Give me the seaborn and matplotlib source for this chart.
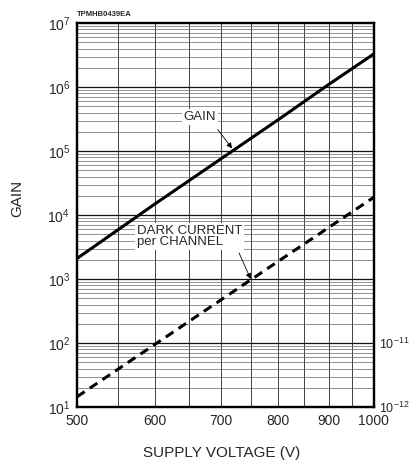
import matplotlib
matplotlib.use('Agg')
import matplotlib.pyplot as plt
import matplotlib.ticker as mticker
import seaborn as sns
import numpy as np
import pandas as pd

# datos
voltage = [500, 600, 700, 800, 900, 1000]
gain = [2.1e3, 1.5e4, 7.6e4, 3.1e5, 1.1e6, 3.3e6]
dark_current = [1.45e-12, 9.6e-12, 4.75e-11, 1.9e-10, 6.4e-10, 1.9e-9]  # A

x_ticks = [500, 600, 700, 800, 900, 1000]
y_ticks = [1e1, 1e2, 1e3, 1e4, 1e5, 1e6, 1e7]
right_ticks = [1e-12, 1e-11]

sns.set_style('white')
plt.rcParams['font.family'] = ['Liberation Sans', 'DejaVu Sans']
plt.rcParams['mathtext.fontset'] = 'custom'
plt.rcParams['mathtext.rm'] = 'Liberation Sans'

df = pd.DataFrame({'V': voltage, 'gain': gain, 'dark': dark_current})

fig = plt.figure(figsize=(4.1, 4.61), dpi=100)
ax = fig.add_axes([0.188, 0.117, 0.724, 0.833])
ax.set_xscale('log')
ax.set_yscale('log')
ax.set_xlim(500, 1000)
ax.set_ylim(1e1, 1e7)

# rejilla tipo papel log
for xv in range(500, 1001, 50):
    ax.axvline(xv, color='#222222', lw=0.6, zorder=1)
for d in range(1, 7):
    for m in range(2, 10):
        ax.axhline(m * 10**d, color='#666666', lw=0.5, zorder=1)
    ax.axhline(10**d, color='#111111', lw=0.9, zorder=1)

sns.lineplot(data=df, x='V', y='gain', ax=ax, color='black', lw=2.2, zorder=3)

ax2 = ax.twinx()
ax2.set_yscale('log')
ax2.set_ylim(1e-12, 1e-6)
sns.lineplot(data=df, x='V', y='dark', ax=ax2, color='black', lw=2.2,
             linestyle=(0, (3, 2)), zorder=3)
ax2.set_xlim(500, 1000)

ax.set_xticks(x_ticks)
ax.xaxis.set_major_formatter(mticker.FixedFormatter([str(v) for v in x_ticks]))
ax.xaxis.set_minor_locator(mticker.NullLocator())
ax.set_yticks(y_ticks)
ax.set_yticklabels([r'$10^{%d}$' % int(np.log10(v)) for v in y_ticks])
ax.yaxis.set_minor_locator(mticker.NullLocator())
ax.tick_params(length=0, labelsize=10, pad=5)

ax2.set_yticks(right_ticks)
ax2.set_yticklabels([r'$10^{%d}$' % int(np.log10(v)) for v in right_ticks])
ax2.yaxis.set_minor_locator(mticker.NullLocator())
ax2.tick_params(length=0, labelsize=9, pad=4)
ax2.set_ylabel('')
ax.set_ylabel('')
ax.set_xlabel('')

for a in (ax, ax2):
    for s in a.spines.values():
        s.set_linewidth(1.6)
        s.set_color('black')

# anotaciones
ax.annotate('GAIN', xy=(718, 1.1e5), xytext=(666, 3.4e5),
            fontsize=9.5, ha='center', va='center',
            bbox=dict(boxstyle='square,pad=0.15', fc='white', ec='none'),
            arrowprops=dict(arrowstyle='-|>', color='black', lw=0.6,
                            shrinkA=4, shrinkB=0, mutation_scale=8,
                            relpos=(0.9, 0.0)),
            zorder=5)
ax.annotate('DARK CURRENT\nper CHANNEL', xy=(750, 1.0e3), xytext=(575, 4.6e3),
            fontsize=9.5, ha='left', va='center', linespacing=0.95,
            bbox=dict(boxstyle='square,pad=0.15', fc='white', ec='none'),
            arrowprops=dict(arrowstyle='-|>', color='black', lw=0.6,
                            shrinkA=2, shrinkB=0, mutation_scale=8,
                            relpos=(0.95, 0.0)),
            zorder=5)

fig.text(0.188, 0.962, 'TPMHB0439EA', fontsize=5.5, fontweight='bold', ha='left', va='bottom')
fig.text(0.041, 0.57, 'GAIN', fontsize=11, rotation=90, ha='center', va='center')
fig.text(0.54, 0.018, 'SUPPLY VOLTAGE (V)', fontsize=11, ha='center', va='center')

fig.savefig('out.png', dpi=100)
